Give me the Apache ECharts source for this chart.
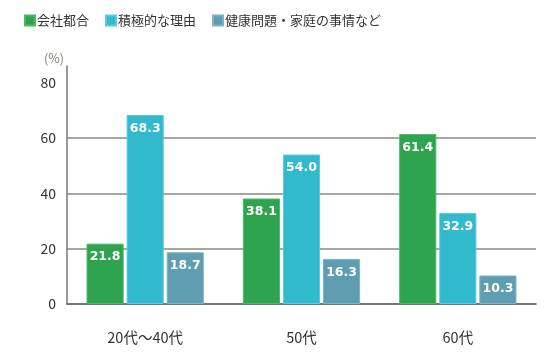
<!DOCTYPE html>
<html><head><meta charset="utf-8">
<script src="https://cdn.jsdelivr.net/npm/echarts@6/dist/echarts.min.js"></script>
<style>html,body{margin:0;padding:0;background:#fff}#c{width:553px;height:363px}</style>
</head><body><div id="c"></div>
<script>
const categories = ['20代〜40代', '50代', '60代'];
const seriesNames = ['会社都合', '積極的な理由', '健康問題・家庭の事情など'];
const companyReasons = [21.8, 38.1, 61.4];
const positiveReasons = [68.3, 54.0, 32.9];
const healthFamily = [18.7, 16.3, 10.3];
const yTicks = [0, 20, 40, 60, 80];

const colors = ['#2ea44f', '#31b9cd', '#5f9db1'];
const borders = ['#4cb768', '#5ccadb', '#7fb2c2'];
const font = "'Noto Sans CJK JP', 'Noto Sans', sans-serif";
const dataSets = [companyReasons, positiveReasons, healthFamily];

const chart = echarts.init(document.getElementById('c'), null, {renderer: 'canvas'});
chart.setOption({
  animation: false,
  textStyle: {fontFamily: font},
  legend: {
    left: 19, top: 9, itemWidth: 10, itemHeight: 10, itemGap: 16,
    icon: 'rect',
    textStyle: {fontSize: 13, color: '#333', fontFamily: font, padding: [0, 0, 0, -3]},
    data: seriesNames
  },
  grid: {left: 67, right: 17, top: 66, bottom: 59},
  xAxis: {
    type: 'category', data: categories,
    axisLine: {lineStyle: {color: '#666', width: 1.5}},
    axisTick: {show: false},
    axisLabel: {color: '#333', fontSize: 14.5, margin: 26, fontFamily: font}
  },
  yAxis: {
    type: 'value', min: yTicks[0], max: 86, interval: 20,
    name: '(%)', nameLocation: 'end', nameGap: 1,
    nameTextStyle: {color: '#8a7c70', fontSize: 12.5, align: 'right', padding: [0, 3, 0, 0]},
    axisLine: {show: true, lineStyle: {color: '#777', width: 1.5}},
    axisTick: {show: false},
    axisLabel: {color: '#333', fontSize: 14, margin: 11, fontFamily: font,
      formatter: v => yTicks.includes(v) ? String(v) : ''},
    splitLine: {lineStyle: {color: ['#888', '#888', '#888', '#888', 'rgba(0,0,0,0)', 'rgba(0,0,0,0)'], width: 1.5}}
  },
  series: seriesNames.map((n, i) => ({
    name: n, type: 'bar', data: dataSets[i],
    barCategoryGap: '25%', barGap: '8%',
    itemStyle: {color: colors[i], borderColor: borders[i], borderWidth: 1},
    label: {show: true, position: 'insideTop', distance: 7, color: '#fff',
      fontWeight: 'bold', fontSize: 12.5, fontFamily: "'DejaVu Sans', sans-serif",
      formatter: p => p.value.toFixed(1)}
  }))
});
</script></body></html>
